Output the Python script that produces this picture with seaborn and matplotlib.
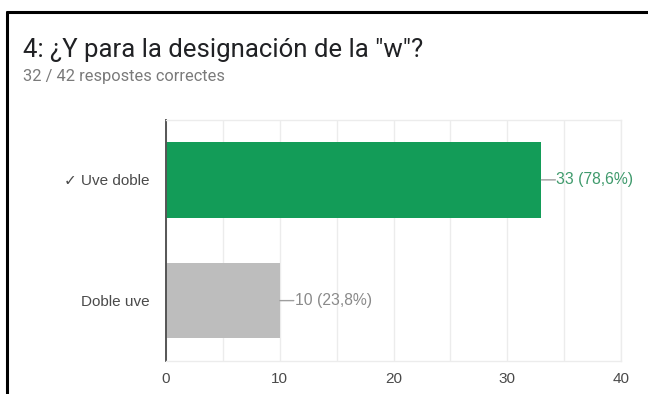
import matplotlib
matplotlib.use("Agg")
import matplotlib.pyplot as plt
from matplotlib.lines import Line2D
import seaborn as sns
import pandas as pd

# Answers to question 4 and their counts
answers = ["\u2713 Uve doble", "Doble uve"]
counts = [33, 10]
percent_labels = ["78,6%", "23,8%"]
bar_colors = ["#139c58", "#bdbdbd"]
label_colors = ["#3f9a6c", "#8a8a8a"]
x_ticks = [0, 10, 20, 30, 40]

title_text = '4: \u00bfY para la designaci\u00f3n de la "w"?'
subtitle_text = "32 / 42 respostes correctes"

sns.set_theme(style="white")
plt.rcParams["font.family"] = ["Liberation Sans", "DejaVu Sans"]

df = pd.DataFrame({"answer": answers, "count": counts})

fig = plt.figure(figsize=(6.48, 3.94), dpi=100)
ax = fig.add_axes([0.2562, 0.0838, 0.7022, 0.6129])

sns.barplot(data=df, x="count", y="answer", hue="answer", palette=bar_colors,
            orient="h", width=0.627, legend=False, ax=ax, saturation=1,
            edgecolor="none")

ax.set_xlim(0, 40)
ax.set_ylim(1.5, -0.5)
ax.set_xticks(x_ticks)
ax.set_xticks(range(5, 40, 10), minor=True)
ax.xaxis.grid(True, which="both", color="#ececec", linewidth=1)
ax.set_axisbelow(True)
ax.set_xlabel("")
ax.set_ylabel("")

for side in ["top", "right", "bottom"]:
    ax.spines[side].set_color("#ececec")
    ax.spines[side].set_linewidth(1)
ax.spines["left"].set_color("#555555")
ax.spines["left"].set_linewidth(1.4)

ax.tick_params(axis="both", which="both", length=0, labelsize=11,
               labelcolor="#4a4a4a")
ax.tick_params(axis="x", pad=8)
ax.tick_params(axis="y", pad=12)

# Value labels with short leader lines
for i, (val, pct, col) in enumerate(zip(counts, percent_labels, label_colors)):
    ax.annotate("", xy=(val, i), xytext=(14, 0), textcoords="offset pixels",
                arrowprops=dict(arrowstyle="-", color="#9e9e9e", lw=1,
                                shrinkA=0, shrinkB=0))
    ax.annotate(f"{val} ({pct})", xy=(val, i), xytext=(15, 0),
                textcoords="offset pixels", ha="left", va="center",
                fontsize=11.3, color=col)

fig.text(23 / 648, 1 - 57.5 / 394, title_text, fontsize=18.5,
         family=["Roboto", "DejaVu Sans"], color="#202124",
         ha="left", va="baseline")
fig.text(23 / 648, 1 - 81 / 394, subtitle_text, fontsize=11.8,
         family=["Roboto", "DejaVu Sans"], color="#7a7a7a",
         ha="left", va="baseline")

# Card frame
fig.add_artist(Line2D([7 / 648, 1.0], [1 - 12 / 394, 1 - 12 / 394],
                      color="black", linewidth=2.2,
                      transform=fig.transFigure))
fig.add_artist(Line2D([7 / 648, 7 / 648], [0.0, 1 - 12 / 394],
                      color="black", linewidth=2.2,
                      transform=fig.transFigure))

fig.savefig("out.png", dpi=100)
